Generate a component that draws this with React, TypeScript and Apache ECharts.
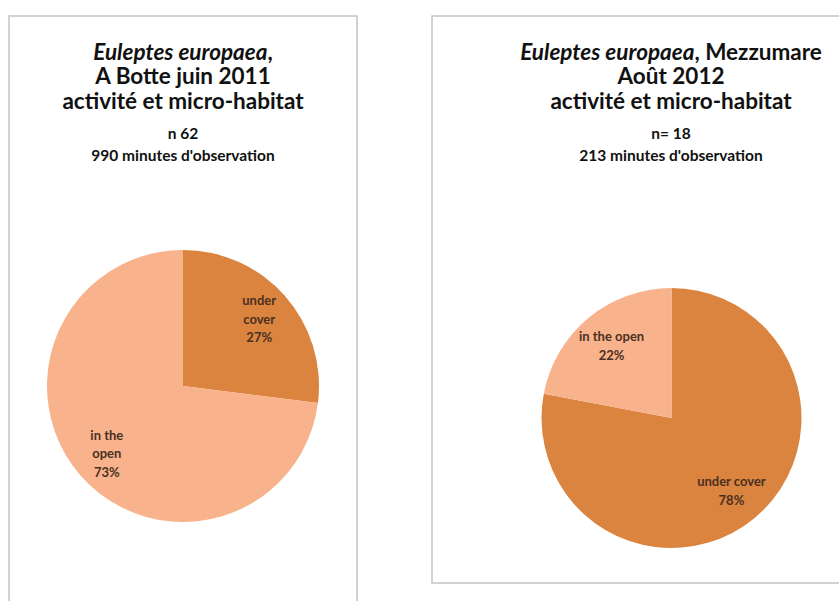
import React, { useEffect, useRef } from "react";
import * as echarts from "echarts";

const categoriesLeft = ["under\ncover", "in the\nopen"];
const valuesLeft = [27, 73];
const categoriesRight = ["under cover", "in the open"];
const valuesRight = [78, 22];
const colorsLeft = ["#DB843F", "#F8B28C"];
const colorsRight = ["#DB843F", "#F8B28C"];

const titleLeft = ["{i|Euleptes europaea},", "A Botte juin 2011", "activité et micro-habitat"];
const subLeft = ["n 62", "990 minutes d'observation"];
const titleRight = ["{i|Euleptes europaea}, Mezzumare", "Août 2012", "activité et micro-habitat"];
const subRight = ["n= 18", "213 minutes d'observation"];

const FONT = "Lato, 'Open Sans', sans-serif";

export default function App() {
  const ref = useRef<HTMLDivElement>(null);
  useEffect(() => {
    document.body.style.margin = "0";
    const chart = echarts.init(ref.current!, null, { renderer: "svg" });
    const FS = 22.5;
    const mkTitle = (lines: string[], sub: string[], cx: number) => [
      ...lines.map((t, k) => ({
        text: t,
        left: cx,
        top: 51 + k * 24.5 - FS / 2,
        padding: 0,
        textAlign: "center",
        textStyle: {
          fontFamily: FONT,
          fontSize: FS,
          fontWeight: "bold",
          color: "#111",
          lineHeight: FS,
          rich: {
            i: { fontFamily: FONT, fontSize: FS, fontWeight: "bold", fontStyle: "italic", color: "#111", lineHeight: FS },
          },
        },
      })),
      ...sub.map((t, k) => ({
        text: t,
        left: cx,
        top: 133 + k * 22 - 8,
        padding: 0,
        textAlign: "center",
        textStyle: { fontFamily: FONT, fontSize: 15.5, fontWeight: "bold", color: "#111", lineHeight: 16 },
      })),
    ];
    const pieBase = (cats: string[], vals: number[], colors: string[], center: number[], r: number, inner: number) => [
      {
        type: "pie",
        center,
        radius: [0, r],
        startAngle: 90,
        clockwise: true,
        silent: true,
        label: { show: false },
        labelLine: { show: false },
        itemStyle: { borderWidth: 0 },
        data: cats.map((c, i) => ({ name: c, value: vals[i], itemStyle: { color: colors[i] } })),
      },
      {
        type: "pie",
        center,
        radius: [r * inner, r],
        startAngle: 90,
        clockwise: true,
        silent: true,
        itemStyle: { color: "rgba(0,0,0,0)", borderWidth: 0 },
        label: {
          show: true,
          position: "inside",
          formatter: (p: any) => `${p.name}\n${p.value}%`,
          fontFamily: FONT,
          fontSize: 13,
          fontWeight: "bold",
          color: "#4a3020",
          lineHeight: 18.5,
          align: "center",
        },
        labelLine: { show: false },
        data: cats.map((c, i) => ({ name: c, value: vals[i] })),
      },
    ];
    chart.setOption({
      animation: false,
      backgroundColor: "#ffffff",
      title: [...mkTitle(titleLeft, subLeft, 183), ...mkTitle(titleRight, subRight, 671)],
      graphic: [
        { type: "rect", shape: { x: 9, y: 16, width: 348, height: 600 }, style: { fill: "none", stroke: "#c4c4c4", lineWidth: 1.5 }, z: -1 },
        { type: "rect", shape: { x: 432, y: 16, width: 420, height: 567 }, style: { fill: "none", stroke: "#c4c4c4", lineWidth: 1.5 }, z: -1 },
      ],
      series: [
        ...pieBase(categoriesLeft, valuesLeft, colorsLeft, [183, 386], 136, 0.45),
        ...pieBase(categoriesRight, valuesRight, colorsRight, [671.5, 418], 130, 0.4),
      ],
    });
    return () => chart.dispose();
  }, []);
  return <div ref={ref} style={{ width: 839, height: 601 }} />;
}
